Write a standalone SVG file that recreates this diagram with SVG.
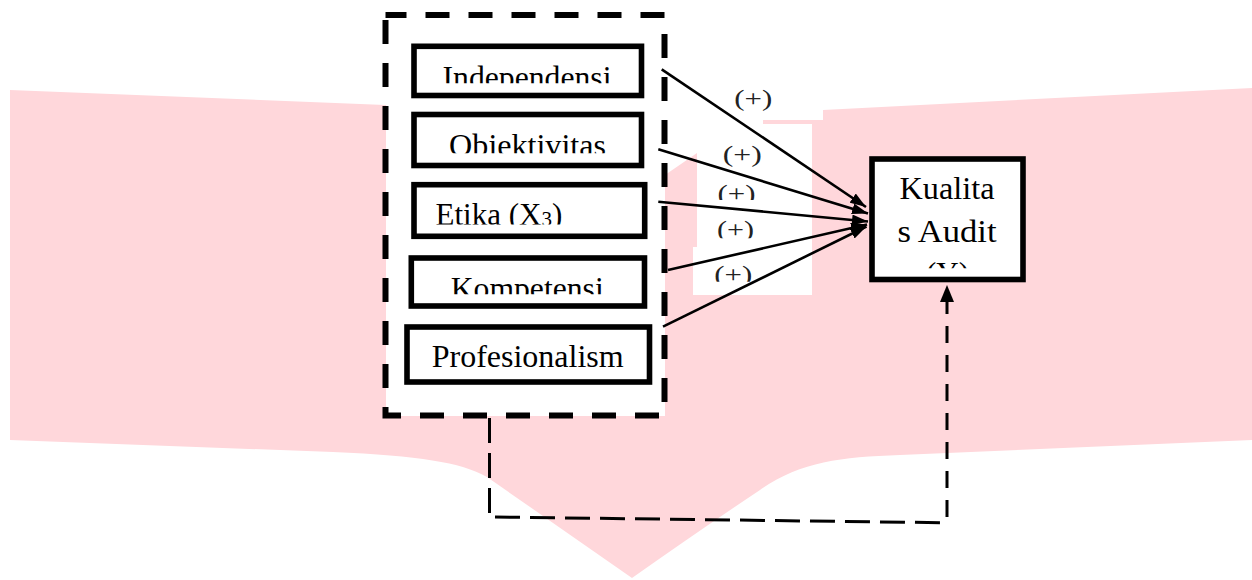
<svg xmlns="http://www.w3.org/2000/svg" width="1252" height="580" viewBox="0 0 1252 580">
  <style>
    .bg { fill: #ffd7db; }
    .wh { fill: #ffffff; }
    .box { fill: #ffffff; stroke: #000000; stroke-width: 5.6; }
    .txt { font-family: "Liberation Serif", "Times New Roman", serif; font-size: 31px; fill: #000000; }
    .lbl { font-family: "Liberation Serif", "Times New Roman", serif; font-size: 23px; fill: #222222; }
    .arrow { fill: none; stroke: #000000; stroke-width: 2.6; marker-end: url(#ah); }
    .dash { fill: none; stroke: #000000; stroke-width: 3; }
  </style>
  <defs>
    <marker id="ah" markerUnits="userSpaceOnUse" markerWidth="16" markerHeight="11" refX="16" refY="5.5" orient="auto">
      <path d="M0,0 L16,5.5 L0,11 Z" fill="#000000"/>
    </marker>
    <marker id="ah2" markerUnits="userSpaceOnUse" markerWidth="17" markerHeight="14" refX="17" refY="7" orient="auto">
      <path d="M0,0 L17,7 L0,14 Z" fill="#000000"/>
    </marker>
    <clipPath id="c1"><rect x="416" y="49" width="223" height="34.3"/></clipPath>
    <clipPath id="c2"><rect x="416" y="117" width="223" height="36.3"/></clipPath>
    <clipPath id="c3"><rect x="416" y="187" width="226" height="37.5"/></clipPath>
    <clipPath id="c4"><rect x="414" y="261" width="228" height="33.3"/></clipPath>
    <clipPath id="c6"><rect x="875" y="162" width="145" height="106.3"/></clipPath>
    <clipPath id="l3"><rect x="700" y="170" width="80" height="30"/></clipPath>
    <clipPath id="l4"><rect x="700" y="210" width="80" height="28.3"/></clipPath>
    <clipPath id="l5"><rect x="700" y="255" width="80" height="26.7"/></clipPath>
  </defs>

  <g id="background">
    <path class="bg" d="M10,90 L763,120 L823,110 L1252,88 L1252,440 L900,455 C840,457 800,462 760,490 Q700,530 632,578 L487,477 C460,462 420,456 333,452 L10,440 Z"/>
    <path class="wh" d="M660,55 L823,55 L823,120 L763,120 L763,124 L697,124 L697,153 L665,175 L660,175 Z"/>
    <rect class="wh" x="697" y="124" width="115" height="171"/>
    <rect class="wh" x="693" y="247" width="5" height="48"/>
    <rect class="wh" x="386" y="15" width="279" height="401"/>
  </g>

  <g id="group-x">
    <path d="M385.5,15 H664.5 V415.5 H385.5 Z" fill="none" stroke="#000000" stroke-width="6" stroke-dasharray="24 19" stroke-dashoffset="3"/>
  </g>

  <g id="node-independensi">
    <rect class="box" x="414" y="46.3" width="227.5" height="49.2"/>
    <text class="txt" x="527" y="87.8" text-anchor="middle" textLength="169" lengthAdjust="spacingAndGlyphs" clip-path="url(#c1)">Independensi</text>
  </g>

  <g id="node-objektivitas">
    <rect class="box" x="414" y="114.5" width="227.5" height="51"/>
    <text class="txt" x="527.5" y="155.5" text-anchor="middle" textLength="157" lengthAdjust="spacingAndGlyphs" clip-path="url(#c2)">Objektivitas</text>
  </g>

  <g id="node-etika">
    <rect class="box" x="414" y="184.7" width="230.7" height="51.6"/>
    <text class="txt" x="435.5" y="224.8" clip-path="url(#c3)">Etika (X<tspan font-size="21" dy="1">3</tspan><tspan dy="-1">)</tspan></text>
  </g>

  <g id="node-kompetensi">
    <rect class="box" x="411.3" y="258" width="233.2" height="48"/>
    <text class="txt" x="527.2" y="298.8" text-anchor="middle" textLength="153" lengthAdjust="spacingAndGlyphs" clip-path="url(#c4)">Kompetensi</text>
  </g>

  <g id="node-profesionalism">
    <rect class="box" x="407" y="327" width="242.5" height="55"/>
    <text class="txt" x="527.7" y="367.3" text-anchor="middle" textLength="192" lengthAdjust="spacingAndGlyphs">Profesionalism</text>
  </g>

  <g id="node-kualitas-audit">
    <rect class="box" x="872" y="159" width="151" height="120.5" stroke-width="6"/>
    <g clip-path="url(#c6)">
      <text class="txt" x="947" y="199.3" text-anchor="middle" textLength="95" lengthAdjust="spacingAndGlyphs">Kualita</text>
      <text class="txt" x="947" y="241.7" text-anchor="middle" textLength="99" lengthAdjust="spacingAndGlyphs">s Audit</text>
      <text class="txt" x="947.5" y="284.3" text-anchor="middle">(Y)</text>
    </g>
  </g>

  <g id="connectors">
    <line class="arrow" x1="661.7" y1="69.3" x2="866" y2="207"/>
    <line class="arrow" x1="658.3" y1="149.3" x2="868" y2="213.5"/>
    <line class="arrow" x1="658.3" y1="201.7" x2="868" y2="221.5"/>
    <line class="arrow" x1="668" y1="270" x2="867" y2="224.5"/>
    <line class="arrow" x1="663" y1="326.7" x2="866.5" y2="226.5"/>
    <path class="dash" d="M489.5,418 V516 M495,517 L943,522.7" stroke-dasharray="25 10"/>
    <path class="dash" d="M947,517 V285" stroke-dasharray="17 12" marker-end="url(#ah2)"/>
  </g>

  <g id="labels">
    <text class="lbl" x="753.3" y="105.5" text-anchor="middle" textLength="38" lengthAdjust="spacingAndGlyphs">(+)</text>
    <text class="lbl" x="742.3" y="162.2" text-anchor="middle" textLength="39" lengthAdjust="spacingAndGlyphs">(+)</text>
    <text class="lbl" x="736.5" y="200.5" text-anchor="middle" textLength="38" lengthAdjust="spacingAndGlyphs" clip-path="url(#l3)">(+)</text>
    <text class="lbl" x="735.5" y="237.2" text-anchor="middle" textLength="37" lengthAdjust="spacingAndGlyphs" clip-path="url(#l4)">(+)</text>
    <text class="lbl" x="733.3" y="282.2" text-anchor="middle" textLength="38" lengthAdjust="spacingAndGlyphs" clip-path="url(#l5)">(+)</text>
  </g>
</svg>
